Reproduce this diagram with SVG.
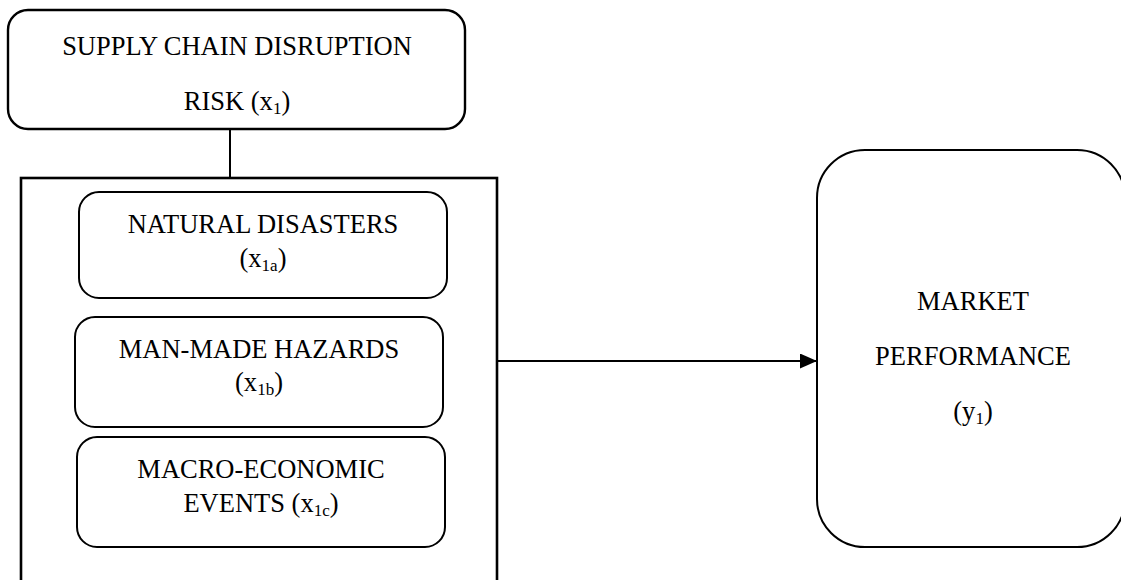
<svg xmlns="http://www.w3.org/2000/svg" width="1121" height="580" viewBox="0 0 1121 580">
<defs>
<style>
.box{fill:#fff;stroke:#000;stroke-width:2}
.top{stroke-width:2.4}
.outer{fill:none;stroke:#000;stroke-width:2.6}
.t{font-family:"Liberation Serif","Times New Roman",serif;font-size:26.5px;fill:#000;text-anchor:middle}
.sub{font-size:17px}
.conn{stroke:#000;stroke-width:2;fill:none}
</style>
<marker id="arr" markerWidth="17" markerHeight="15" refX="17" refY="7.5" orient="auto" markerUnits="userSpaceOnUse">
<path d="M0,0 L17,7.5 L0,15 Z" fill="#000"/>
</marker>
</defs>
<rect width="1121" height="580" fill="#fff"/>
<g id="connectors">
<line class="conn" x1="230" y1="129" x2="230" y2="178"/>
<line class="conn" x1="497" y1="361" x2="817" y2="361" marker-end="url(#arr)"/>
</g>
<g id="supply-chain-risk">
<rect class="box top" x="8" y="10" width="457" height="119" rx="20"/>
<text class="t" x="237" y="55">SUPPLY CHAIN DISRUPTION</text>
<text class="t" x="237" y="110">RISK (x<tspan class="sub" dy="4">1</tspan><tspan dy="-4">)</tspan></text>
</g>
<g id="risk-group">
<rect class="outer" x="21" y="178" width="476" height="405"/>
</g>
<g id="natural-disasters">
<rect class="box" x="79" y="192" width="368" height="106" rx="20"/>
<text class="t" x="263" y="233">NATURAL DISASTERS</text>
<text class="t" x="263" y="267">(x<tspan class="sub" dy="4">1a</tspan><tspan dy="-4">)</tspan></text>
</g>
<g id="man-made-hazards">
<rect class="box" x="75" y="317" width="368" height="110" rx="20"/>
<text class="t" x="259" y="358">MAN-MADE HAZARDS</text>
<text class="t" x="259" y="391">(x<tspan class="sub" dy="4">1b</tspan><tspan dy="-4">)</tspan></text>
</g>
<g id="macro-economic-events">
<rect class="box" x="77" y="437" width="368" height="110" rx="20"/>
<text class="t" x="261" y="478">MACRO-ECONOMIC</text>
<text class="t" x="261" y="512">EVENTS (x<tspan class="sub" dy="4">1c</tspan><tspan dy="-4">)</tspan></text>
</g>
<g id="market-performance">
<rect class="box" x="817" y="150" width="308" height="397" rx="48"/>
<text class="t" x="973" y="310">MARKET</text>
<text class="t" x="973" y="365">PERFORMANCE</text>
<text class="t" x="973" y="420">(y<tspan class="sub" dy="4">1</tspan><tspan dy="-4">)</tspan></text>
</g>
</svg>
